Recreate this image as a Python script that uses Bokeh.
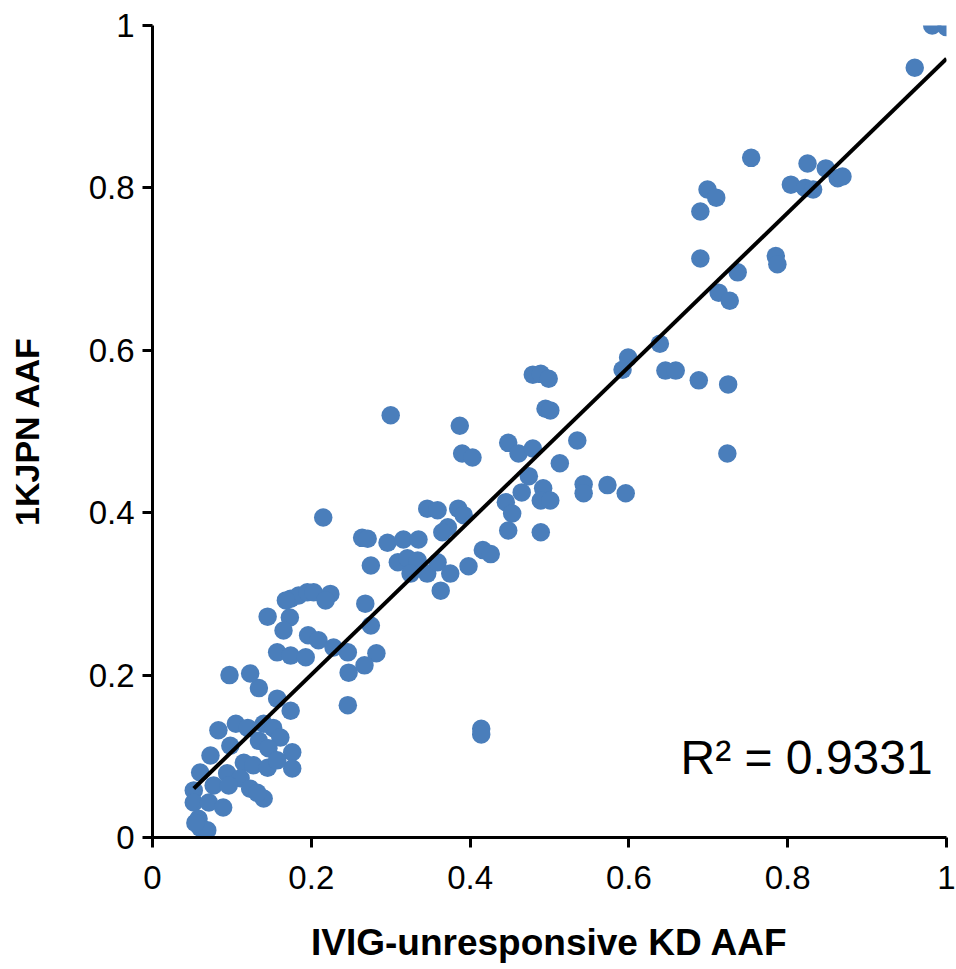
from bokeh.plotting import figure
from bokeh.models import FixedTicker, Label
from bokeh.embed import file_html
from bokeh.resources import INLINE

# ---- data ----
kd_aaf = [
    0.174, 0.157, 0.134, 0.083, 0.105, 0.120, 0.140, 0.152, 0.161, 0.098,
    0.073, 0.134, 0.146, 0.176, 0.115, 0.127, 0.145, 0.176, 0.060, 0.157,
    0.094, 0.111, 0.052, 0.077, 0.096, 0.123, 0.140, 0.132, 0.052, 0.071,
    0.089, 0.058, 0.060, 0.069, 0.054,
    0.097, 0.123, 0.145, 0.173, 0.165, 0.196, 0.209, 0.157, 0.174, 0.193,
    0.174, 0.184, 0.195, 0.203, 0.168, 0.224, 0.218, 0.228, 0.246, 0.247,
    0.246, 0.215, 0.300, 0.264, 0.271, 0.275, 0.268, 0.275, 0.282, 0.267,
    0.296, 0.316, 0.335, 0.309, 0.321, 0.334, 0.325, 0.346, 0.359, 0.375,
    0.398, 0.416, 0.426, 0.363, 0.346, 0.359, 0.385, 0.392, 0.372, 0.365,
    0.414, 0.414, 0.387, 0.390, 0.403,
    0.448, 0.461, 0.479, 0.535, 0.513, 0.474, 0.543, 0.543, 0.573, 0.596,
    0.465, 0.492, 0.489, 0.501, 0.445, 0.453, 0.448, 0.489, 0.479, 0.489,
    0.499, 0.495, 0.501, 0.599, 0.592, 0.639, 0.646, 0.659, 0.688, 0.725,
    0.724,
    0.754, 0.825, 0.848, 0.863, 0.869, 0.804, 0.822, 0.832, 0.699, 0.710,
    0.690, 0.690, 0.785, 0.787, 0.737, 0.713, 0.727, 0.982, 1.000, 0.960,
]
jpn_aaf = [
    0.156, 0.171, 0.184, 0.132, 0.140, 0.135, 0.140, 0.135, 0.123, 0.113,
    0.101, 0.119, 0.110, 0.105, 0.092, 0.089, 0.086, 0.085, 0.080, 0.095,
    0.079, 0.073, 0.058, 0.064, 0.064, 0.060, 0.048, 0.055, 0.043, 0.043,
    0.037, 0.023, 0.012, 0.009, 0.018,
    0.200, 0.202, 0.272, 0.271, 0.255, 0.249, 0.243, 0.228, 0.224, 0.222,
    0.294, 0.298, 0.302, 0.302, 0.292, 0.300, 0.292, 0.234, 0.228, 0.203,
    0.163, 0.394, 0.520, 0.369, 0.368, 0.335, 0.288, 0.261, 0.227, 0.212,
    0.363, 0.367, 0.367, 0.339, 0.344, 0.341, 0.325, 0.325, 0.339, 0.325,
    0.334, 0.354, 0.349, 0.304, 0.405, 0.403, 0.405, 0.397, 0.382, 0.376,
    0.134, 0.127, 0.507, 0.473, 0.468,
    0.486, 0.473, 0.479, 0.489, 0.461, 0.445, 0.435, 0.424, 0.434, 0.424,
    0.425, 0.430, 0.415, 0.415, 0.413, 0.399, 0.378, 0.376, 0.570, 0.571,
    0.565, 0.528, 0.526, 0.591, 0.576, 0.608, 0.575, 0.575, 0.563, 0.558,
    0.473,
    0.837, 0.830, 0.824, 0.812, 0.814, 0.804, 0.800, 0.798, 0.798, 0.788,
    0.771, 0.713, 0.716, 0.706, 0.696, 0.671, 0.661, 1.000, 0.998, 0.948,
]
# linear trendline as drawn in the reference (Excel trendline)
trend_slope = 0.948
trend_intercept = 0.011
tick_values = [0, 0.2, 0.4, 0.6, 0.8, 1]
tick_labels = ["0", "0.2", "0.4", "0.6", "0.8", "1"]
r2_text = "R\u00b2 = 0.9331"
x_title = "IVIG-unresponsive KD AAF"
y_title = "1KJPN AAF"

FONT = "Liberation Sans"

p = figure(width=956, height=966, x_range=(0, 1), y_range=(0, 1),
           output_backend="svg", toolbar_location=None,
           min_border_left=152, min_border_right=10,
           min_border_top=25, min_border_bottom=129)
p.outline_line_color = None
p.xgrid.visible = False
p.ygrid.visible = False
p.background_fill_color = "white"
p.border_fill_color = "white"

overrides = {v: l for v, l in zip(tick_values, tick_labels)}
for ax in (p.xaxis[0], p.yaxis[0]):
    ax.ticker = FixedTicker(ticks=tick_values)
    ax.major_label_overrides = overrides
    ax.axis_line_color = "black"
    ax.axis_line_width = 3
    ax.major_tick_line_color = "black"
    ax.major_tick_line_width = 3
    ax.major_tick_in = 0
    ax.major_tick_out = 10
    ax.minor_tick_line_color = None
    ax.major_label_text_font = FONT
    ax.major_label_text_font_size = "33px"
    ax.major_label_text_color = "black"
    ax.axis_label_text_font = FONT
    ax.axis_label_text_font_style = "bold"
    ax.axis_label_text_color = "black"

p.xaxis.axis_label = x_title
p.yaxis.axis_label = y_title
p.xaxis.axis_label_text_font_size = "37px"
p.yaxis.axis_label_text_font_size = "34px"
p.xaxis.major_label_standoff = 18
p.yaxis.major_label_standoff = 8
p.xaxis.axis_label_standoff = 30
p.yaxis.axis_label_standoff = 40

# scatter
p.scatter(kd_aaf, jpn_aaf, size=18.5, fill_color="#4A7EBB", line_color=None)

# linear trendline spanning the data range
lx = [min(kd_aaf), max(kd_aaf)]
ly = [trend_slope * v + trend_intercept for v in lx]
p.line(lx, ly, line_color="black", line_width=4)

p.add_layout(Label(x=0.665, y=0.098, text=r2_text, text_font=FONT,
                   text_font_size="48px", text_color="black",
                   text_align="left", text_baseline="alphabetic"))

open("out.html", "w").write(file_html(p, INLINE))
